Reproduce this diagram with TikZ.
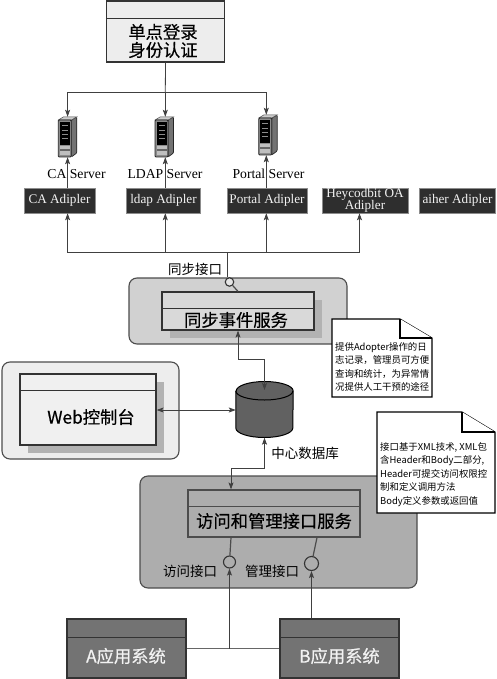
\documentclass[tikz,border=0pt]{standalone}
\usepackage{fontspec}
\setmainfont{Noto Sans CJK SC}
\newfontfamily\latinserif{Liberation Serif}
\newfontfamily\heavycjk[FakeBold=0.5]{Noto Sans CJK SC}
\usepackage{tikz}
\usetikzlibrary{shapes,arrows.meta,positioning}

\tikzset{
    wire/.style={draw=black!75,line width=0.8pt,>={Stealth[length=7pt,width=5pt,inset=1.5pt]}},
    frame/.style={draw=black!70,line width=1.1pt,rectangle,rounded corners=8pt,inner sep=0pt},
    umlbox/.style={draw=black!80,line width=1.2pt,rectangle,inner sep=0pt},
    umlshadow/.style={fill=black!30,rectangle,inner sep=0pt},
    bigtext/.style={font=\heavycjk\fontsize{17.3}{18}\selectfont,align=center,inner sep=0pt},
    midtext/.style={font=\fontsize{13.5}{15}\selectfont,inner sep=0pt},
    notetext/.style={align=left,anchor=north west,inner sep=0pt,font=\fontsize{9.4}{13.5}\selectfont},
    notepaper/.style={draw=black,line width=1.1pt,fill=white,line join=miter},
    serverlabel/.style={font=\latinserif\fontsize{13.7}{15}\selectfont,inner sep=0pt},
    adipler/.style={fill=black!82,draw=black!45,line width=0.5pt,text=black!5,rectangle,inner sep=0pt,align=center,font=\latinserif\fontsize{13.2}{11}\selectfont},
    port/.style={circle,draw=black!80,line width=1.1pt,inner sep=0pt}
}

\begin{document}
\begin{tikzpicture}[x=1pt,y=-1pt]
    \useasboundingbox (0,0) rectangle (497,679);

    % sso box on top
    \node[umlbox,fill=black!7,minimum width=118pt,minimum height=61pt] (ssobox) at (165.5,31.5) {};
    \draw[umlbox] (ssobox.north west) ++(0,18) -- ++(118,0);
    \node[bigtext] (ssotext) at (163,41) {单点登录\\身份认证};
    \coordinate (ssobus) at (165.3,92);

    % servers
    \foreach \sname/\sx/\ix/\sy in {caserver/67.6/58.3/117,ldapserver/165.3/155/117,portalserver/266.3/258.7/115} {
        \node[minimum width=19pt,minimum height=40pt,inner sep=0pt] (\sname) at (\sx,\sy+20) {};
        \begin{scope}[shift={(\ix,\sy)}]
            \fill[black!55,draw=black!85,line width=0.7pt,rounded corners=1pt] (13,3) -- (18.5,0) -- (18.5,36) -- (13,40) -- cycle;
            \fill[black!20,draw=black!70,line width=0.5pt] (0,3) -- (5,0) -- (18.5,0) -- (13,3) -- cycle;
            \fill[black!45,draw=black!85,line width=0.8pt,rounded corners=1pt] (0,3) rectangle (13,40);
            \fill[black] (1.5,5) rectangle (11.5,28);
            \foreach \by in {8,13,17,21} \fill[black!45] (3.5,\by) rectangle (9.5,\by+1);
            \fill[black!25] (1.5,29) rectangle (11.5,38);
            \fill[black!60] (1.5,32.5) rectangle (11.5,34);
        \end{scope}
    }
    \draw[wire] (ssobox.south) -- (ssobus);
    \draw[wire,->] (ssobus) -| (caserver.north);
    \draw[wire,->] (ssobus) -- (ldapserver.north);
    \draw[wire,->] (ssobus) -| (portalserver.north);

    \node[serverlabel] (calabel) at (76.5,174) {CA Server};
    \node[serverlabel] (ldaplabel) at (165,174) {LDAP Server};
    \node[serverlabel] (portallabel) at (268.5,174) {Portal Server};

    % adiplers
    \node[adipler,minimum width=71pt,minimum height=25pt] (caadip) at (59.5,200.5) {CA Adipler};
    \node[adipler,minimum width=74pt,minimum height=25pt] (ldapadip) at (163.5,200.5) {ldap Adipler};
    \node[adipler,minimum width=80pt,minimum height=25pt] (portaladip) at (267,200.5) {Portal Adipler};
    \node[adipler,minimum width=86pt,minimum height=25pt] (oaadip) at (365,200.5) {Heycodbit OA\\[-1pt]Adipler};
    \node[adipler,minimum width=76pt,minimum height=25pt] (aiheradip) at (457.5,200.5) {aiher Adipler};

    \draw[wire,->] (caadip.north -| caserver) -- (caserver.south);
    \draw[wire,->] (ldapadip.north -| ldapserver) -- (ldapserver.south);
    \draw[wire,->] (portaladip.north -| portalserver) -- (portalserver.south);

    % sync service
    \node[frame,fill=black!18,minimum width=218pt,minimum height=66pt] (syncframe) at (238,311) {};
    \node[umlshadow,minimum width=152pt,minimum height=38pt] (syncshadow) at (246,319) {};
    \node[umlbox,fill=black!15,minimum width=152pt,minimum height=38pt] (syncbox) at (238,311) {};
    \draw[umlbox] (syncbox.north west) ++(0,17) -- ++(152,0);
    \node[bigtext] (synctext) at (236,320) {同步事件服务};
    \node[port,fill=black!10,minimum size=8.5pt] (syncport) at (229.5,282) {};
    \draw[umlbox,draw=black!70] (syncport) -- (syncbox.north);
    \node[midtext] (syncname) at (195,269) {同步接口};
    \coordinate (syncbus) at (227.7,252);
    \draw[wire] (syncbus) -- (syncport.north -| syncbus);
    \draw[wire,->] (syncbus) -| (caadip.south -| caserver);
    \draw[wire,->] (syncbus) -| (ldapadip.south -| ldapserver);
    \draw[wire,->] (syncbus) -| (portaladip.south -| portalserver);
    \draw[wire,->] (syncbus) -| (oaadip.south -| 359.5,0);

    % note for the log
    \draw[notepaper] (332,319) -- (400,319) -- (432,338) -- (432,397) -- (332,397) -- cycle;
    \draw[notepaper] (400,319) -- (400,338) -- (432,338);
    \node[notetext] (lognote) at (335,342) {提供Adopter操作的日\\志记录，管理员可方便\\查询和统计，为异常情\\况提供人工干预的途径};

    % web console
    \node[frame,fill=black!7,minimum width=177pt,minimum height=97pt] (webframe) at (90.5,410.5) {};
    \node[umlshadow,minimum width=136pt,minimum height=71pt] (webshadow) at (96,417.5) {};
    \node[umlbox,fill=black!6,minimum width=136pt,minimum height=71pt] (webbox) at (88,409.5) {};
    \draw[umlbox] (webbox.north west) ++(0,17) -- ++(136,0);
    \node[bigtext] (webtext) at (91,417) {Web控制台};

    % central database
    \node[minimum width=57pt,minimum height=55pt,inner sep=0pt] (centerdb) at (264.5,410) {};
    \draw[draw=black,line width=1pt,fill=black!62] (centerdb.west |- 0,391) -- (centerdb.west |- 0,428)
        arc[start angle=180,end angle=360,x radius=28.5,y radius=-9.5] -- (centerdb.east |- 0,391)
        arc[start angle=0,end angle=180,x radius=28.5,y radius=-9.5] -- cycle;
    \draw[black,line width=1pt] (centerdb.west |- 0,391) arc[start angle=180,end angle=360,x radius=28.5,y radius=-9];
    \node[midtext] (dbname) at (305,453) {中心数据库};
    \draw[wire,<->] (syncbox.south) -- (238,359) -| (264.5,390);
    \draw[wire,<->] (webbox.east |- 0,410) -- (centerdb.west |- 0,410);

    % access service
    \node[frame,fill=black!32,minimum width=277pt,minimum height=112pt] (accessframe) at (278.5,532) {};
    \node[umlbox,draw=black!70,fill=black!32,minimum width=172pt,minimum height=47pt] (accessbox) at (274,513.5) {};
    \draw[umlbox,draw=black!70] (accessbox.north west) ++(0,17) -- ++(172,0);
    \node[bigtext] (accesstext) at (274,521) {访问和管理接口服务};
    \draw[wire,<->] (centerdb.south) -- (264.5,468) -| (accessbox.north -| 231,0);
    \node[port,minimum size=12pt] (visitport) at (229.5,562) {};
    \node[port,minimum size=14pt] (adminport) at (311.5,563.5) {};
    \draw[umlbox,draw=black!70] (accessbox.south -| 231,0) -- (visitport);
    \draw[umlbox,draw=black!70] (accessbox.south -| 317,0) -- (adminport);
    \node[midtext] (visitname) at (190,571) {访问接口};
    \node[midtext] (adminname) at (272,571) {管理接口};

    % note for the interface
    \draw[notepaper] (377,412) -- (462,412) -- (495,432) -- (495,513) -- (377,513) -- cycle;
    \draw[notepaper] (462,412) -- (462,432) -- (495,432);
    \node[notetext] (apinote) at (380,442) {接口基于XML技术, XML包\\含Header和Body二部分,\\Header可提交访问权限控\\制和定义调用方法\\Body定义参数或返回值};

    % application systems
    \node[umlbox,fill=black!55,minimum width=119pt,minimum height=59pt] (asystem) at (126.5,648.5) {};
    \draw[umlbox] (asystem.north west) ++(0,19) -- ++(119,0);
    \node[bigtext,text=black!5] (atext) at (126,656) {A应用系统};
    \node[umlbox,fill=black!55,minimum width=119pt,minimum height=59pt] (bsystem) at (339.5,648.5) {};
    \draw[umlbox] (bsystem.north west) ++(0,19) -- ++(119,0);
    \node[bigtext,text=black!5] (btext) at (339.5,656) {B应用系统};
    \draw[wire,black!60] (asystem.east) -- (bsystem.west);
    \coordinate (appjoin) at (229.5,648.5);
    \draw[wire,->] (appjoin) -- (visitport.south);
    \draw[wire,->] (bsystem.north -| adminport) -- (adminport.south);
\end{tikzpicture}
\end{document}
